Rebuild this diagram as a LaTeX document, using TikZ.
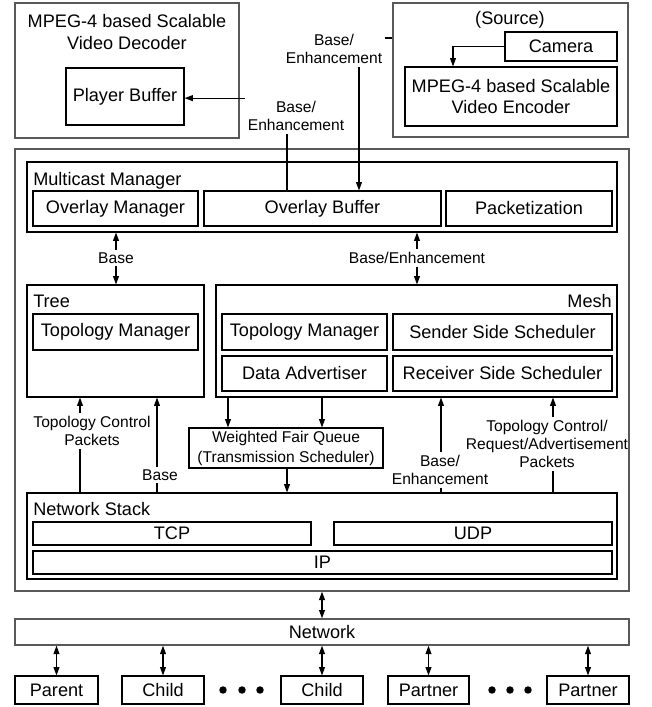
\documentclass[tikz,border=0pt]{standalone}
\usepackage{fontspec}
\setmainfont{Liberation Sans}
\usetikzlibrary{arrows.meta,calc}
\tikzset{
  bx/.style={draw=black, line width=0.85pt, inner sep=0pt},
  obx/.style={draw=black!65, line width=1.1pt, inner sep=0pt},
  mf/.style={font=\fontsize{13.6}{16}\selectfont},
  lf/.style={font=\fontsize{11.7}{13.8}\selectfont},
  lbl/.style={lf, align=center, inner sep=2pt},
  ttl/.style={mf, inner sep=0pt},
  tip/.tip={Triangle[length=6.2pt,width=4.4pt]},
  arr/.style={-tip, line width=0.8pt},
  darr/.style={tip-tip, line width=0.8pt},
  ln/.style={line width=0.8pt},
}
% \rbox{style}{name}{x1}{y1}{x2}{y2}{text}  (pixel corners)
\newcommand{\rbox}[7]{\node[#1, minimum width={(#5-#3)*0.75pt}, minimum height={(#6-#4)*0.75pt}] (#2) at ({(#3+#5)/2},{(#4+#6)/2}) {#7};}
\begin{document}
\begin{tikzpicture}[x=0.75pt,y=-0.75pt]
\useasboundingbox (0,0) rectangle (652,707);
% column / row helpers
\coordinate (c80) at (80,0);
\coordinate (c157) at (157,0);
\coordinate (c228) at (228,0);
\coordinate (c322) at (322,0);
\coordinate (c287) at (287,0);
\coordinate (c359) at (359,0);
\coordinate (c441) at (441,0);
\coordinate (c553) at (553,0);
\coordinate (c453) at (453,0);
\coordinate (r38) at (0,38);

% ---------- top: decoder ----------
\rbox{obx}{dec}{15}{3}{239}{138}{}
\node[mf, align=center, inner sep=0pt] (dect) at (127,32) {MPEG-4 based Scalable\\Video Decoder};
\rbox{bx,mf}{pb}{66}{68}{184}{125}{Player Buffer}

% ---------- top: source ----------
\rbox{obx}{src}{393}{3}{628}{137}{}
\node[mf, inner sep=0pt] (srct) at (510,20) {(Source)};
\rbox{bx,mf}{cam}{505}{32}{617}{61}{Camera}
\rbox{bx,font=\fontsize{13.6}{15.2}\selectfont,align=center}{enc}{405}{67}{617}{126}{MPEG-4 based Scalable\\Video Encoder}

% ---------- main box ----------
\rbox{obx}{main}{15}{149}{629}{591}{}

\rbox{bx}{mm}{27}{162}{617}{232}{}
\node[ttl, anchor=base west] (mmt) at (33,185) {Multicast Manager};
\rbox{bx,mf}{ovm}{33}{191}{198}{226}{Overlay Manager}
\rbox{bx,mf}{ovb}{204}{191}{441}{226}{Overlay Buffer}
\rbox{bx,mf}{pkt}{446}{191}{612}{226}{Packetization}

\rbox{bx}{tree}{27}{285}{204}{397}{}
\node[ttl, anchor=base west] (treet) at (33,307) {Tree};
\rbox{bx,mf}{ttm}{33}{314}{198}{350}{Topology Manager}

\rbox{bx}{mesh}{216}{285}{617}{397}{}
\node[ttl, anchor=base east] (mesht) at (612,307) {Mesh};
\rbox{bx,mf}{mtm}{222}{314}{387}{350}{Topology Manager}
\rbox{bx,mf}{sss}{393}{314}{612}{350}{Sender Side Scheduler}
\rbox{bx,mf}{da}{222}{356}{387}{391}{Data Advertiser}
\rbox{bx,mf}{rss}{393}{356}{612}{391}{Receiver Side Scheduler}

\rbox{bx,font=\fontsize{11.7}{15}\selectfont,align=center}{wfq}{189}{428}{383}{468}{Weighted Fair Queue\\(Transmission Scheduler)}

\rbox{bx}{ns}{27}{493}{617}{579}{}
\node[ttl, anchor=base west] (nst) at (33,515) {Network Stack};
\rbox{bx,mf}{tcp}{33}{522}{311}{545}{TCP}
\rbox{bx,mf}{udp}{334}{522}{612}{545}{UDP}
\rbox{bx,mf}{ip}{33}{551}{612}{574}{IP}

% ---------- network & peers ----------
\rbox{obx,mf}{net}{15}{619}{629}{645}{Network}
\rbox{bx,mf}{parent}{15}{676}{98}{704}{Parent}
\rbox{bx,mf}{child1}{122}{676}{204}{704}{Child}
\rbox{bx,mf}{child2}{281}{676}{363}{704}{Child}
\rbox{bx,mf}{partner1}{388}{676}{469}{704}{Partner}
\rbox{bx,mf}{partner2}{547}{676}{629}{704}{Partner}
\foreach \x in {223,242,260,492,510,528} \fill (\x,690) circle[radius=2.8pt];

% ---------- labels ----------
\node[lbl] (l1) at (296,116) {Base/\\Enhancement};
\node[lbl] (l2) at (334,49) {Base/\\Enhancement};
\node[lbl] (lb1) at (116,258) {Base};
\node[lbl] (lb2) at (417,258) {Base/Enhancement};
\node[lbl] (ltc) at (92,431) {Topology Control\\Packets};
\node[lbl] (lbt) at (160,475) {Base};
\node[lbl] (lbm) at (440,470) {Base/\\Enhancement};
\node[lbl] (ltr) at (547,444) {Topology Control/\\Request/Advertisement\\Packets};

% ---------- connectors ----------
\draw[ln] (ovb.north -| c287) -- (l1.south -| c287);
\draw[arr] (l1.north west) -- (l1.north west -| pb.east);
\draw[ln] (l2.east |- r38) -- (src.west |- r38);
\draw[arr] (l2.south -| c359) -- (ovb.north -| c359);
\draw[arr] (cam.west) -- (cam.west -| c453) -- (enc.north -| c453);

\draw[arr] (lb1.north) -- (lb1.north |- mm.south);
\draw[arr] (lb1.south) -- (lb1.south |- tree.north);
\draw[arr] (lb2.north) -- (lb2.north |- mm.south);
\draw[arr] (lb2.south) -- (lb2.south |- mesh.north);

\draw[arr] (mesh.south -| c228) -- (wfq.north -| c228);
\draw[arr] (mesh.south -| c322) -- (wfq.north -| c322);
\draw[arr] (wfq.south -| c287) -- (ns.north -| c287);

\draw[ln] (ns.north -| c80) -- (ltc.south -| c80);
\draw[arr] (ltc.north -| c80) -- (tree.south -| c80);
\draw[ln] (ns.north -| c157) -- (lbt.south -| c157);
\draw[arr] (lbt.north -| c157) -- (tree.south -| c157);
\draw[ln] (ns.north -| c441) -- (lbm.south -| c441);
\draw[arr] (lbm.north -| c441) -- (mesh.south -| c441);
\draw[ln] (ns.north -| c553) -- (ltr.south -| c553);
\draw[arr] (ltr.north -| c553) -- (mesh.south -| c553);

\draw[darr] (main.south -| c322) -- (net.north -| c322);
\draw[darr] (net.south -| parent) -- (parent.north);
\draw[darr] (net.south -| child1) -- (child1.north);
\draw[darr] (net.south -| child2) -- (child2.north);
\draw[darr] (net.south -| partner1) -- (partner1.north);
\draw[darr] (net.south -| partner2) -- (partner2.north);
\end{tikzpicture}
\end{document}
